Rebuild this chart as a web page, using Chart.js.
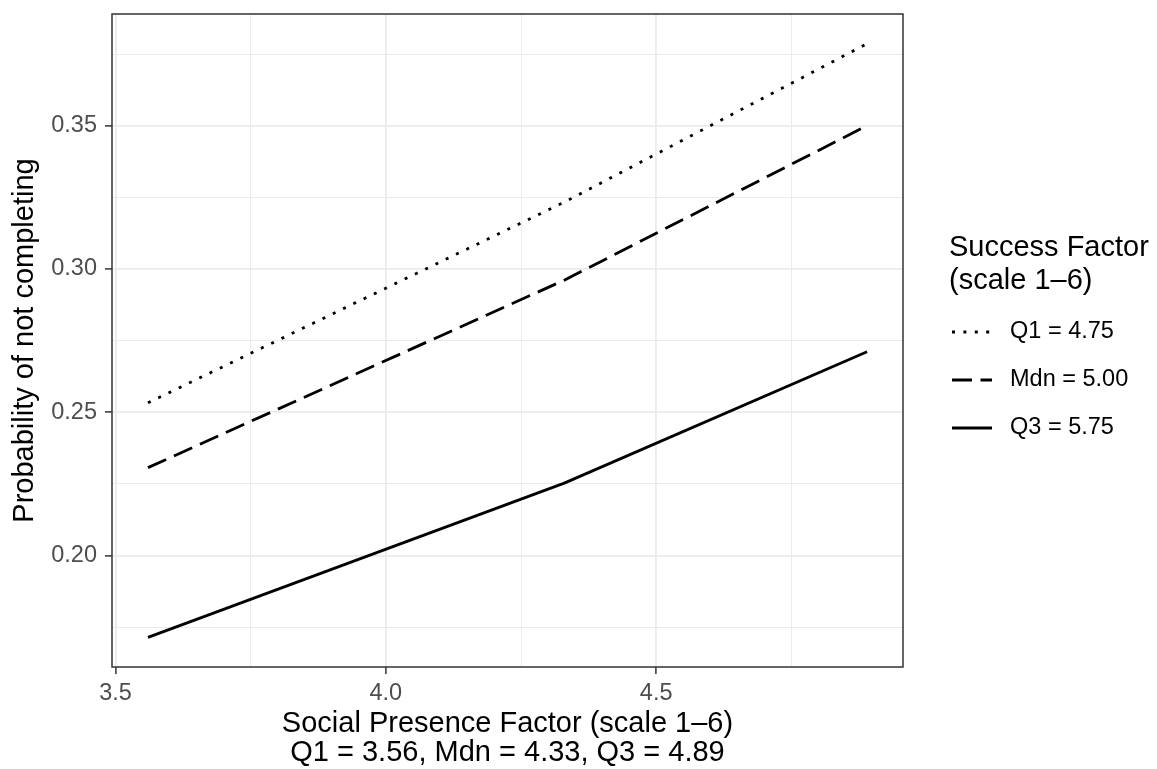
<!DOCTYPE html>
<html lang="en">
<head>
<meta charset="UTF-8">
<title>Probability of not completing</title>
<script src="https://cdn.jsdelivr.net/npm/chart.js"></script>
<style>
  body { margin: 0; background: #ffffff; }
  #wrap { width: 1157px; height: 769px; }
</style>
</head>
<body>
<div id="wrap"><canvas id="probChart" width="1157" height="769"></canvas></div>
<script>
// Social presence factor at Q1, median and Q3
const socialPresence = [3.56, 4.33, 4.89];

// Predicted probability of not completing, one line per success factor level
const seriesLabels = ['Q1 = 4.75', 'Mdn = 5.00', 'Q3 = 5.75'];
const probQ1 = [0.2533, 0.3233, 0.3786];
const probMdn = [0.2307, 0.2961, 0.3500];
const probQ3 = [0.1715, 0.2253, 0.2711];

// Axis breaks
const xMajor = [3.5, 4.0, 4.5];
const xMinor = [3.75, 4.25, 4.75];
const yMajor = [0.20, 0.25, 0.30, 0.35];
const yMinor = [0.175, 0.225, 0.275, 0.325, 0.375];

const FONT = "'Liberation Sans', Arial, Helvetica, sans-serif";

function isIn(v, list) {
    return list.some(m => Math.abs(m - v) < 1e-9);
}

// 5% padding on both sides of the data range, like ggplot does
function expand(values) {
    const lo = Math.min(...values), hi = Math.max(...values);
    const pad = (hi - lo) * 0.05;
    return [lo - pad, hi + pad];
}

const allProb = probQ1.concat(probMdn, probQ3);
const [xMin, xMax] = expand(socialPresence);
const [yMin, yMax] = expand(allProb);

function toPoints(ys) {
    return socialPresence.map((x, i) => ({ x: x, y: ys[i] }));
}

function makeSeries(label, ys, dash) {
    return {
        label: label,
        data: toPoints(ys),
        borderColor: '#000000',
        borderWidth: 2.8,
        borderDash: dash,
        borderCapStyle: 'butt',
        borderJoinStyle: 'round',
        pointRadius: 0,
        tension: 0,
        fill: false
    };
}

function gridFor(major) {
    return {
        color: '#EBEBEB',
        lineWidth: (c) => (c.tick && isIn(c.tick.value, major)) ? 1.8 : 1,
        drawTicks: true,
        tickLength: 7,
        tickWidth: 1.5,
        tickColor: (c) => (c.tick && isIn(c.tick.value, major)) ? '#333333' : 'rgba(0,0,0,0)'
    };
}

// Panel border drawn on top, plus the legend on the right
const panelAndLegend = {
    id: 'panelAndLegend',
    afterDraw(chart) {
        const ctx = chart.ctx;
        const a = chart.chartArea;
        ctx.save();
        ctx.strokeStyle = '#333333';
        ctx.lineWidth = 1.5;
        ctx.setLineDash([]);
        ctx.strokeRect(a.left, a.top, a.right - a.left, a.bottom - a.top);

        // legend title
        ctx.fillStyle = '#000000';
        ctx.textAlign = 'left';
        ctx.textBaseline = 'middle';
        ctx.font = '29px ' + FONT;
        ctx.fillText('Success Factor', 949, 248);
        ctx.fillText('(scale 1–6)', 949, 281);

        // legend keys
        ctx.font = '23.5px ' + FONT;
        chart.data.datasets.forEach((ds, i) => {
            const y = 332 + i * 48;
            ctx.beginPath();
            ctx.setLineDash(ds.borderDash || []);
            ctx.lineCap = 'butt';
            ctx.lineWidth = ds.borderWidth;
            ctx.strokeStyle = ds.borderColor;
            ctx.moveTo(952, y);
            ctx.lineTo(992, y);
            ctx.stroke();
            ctx.setLineDash([]);
            ctx.fillStyle = '#000000';
            ctx.fillText(ds.label, 1010, y);
        });
        ctx.restore();
    }
};

new Chart(document.getElementById('probChart'), {
    type: 'line',
    data: {
        datasets: [
            makeSeries(seriesLabels[0], probQ1, [3, 8.4]),
            makeSeries(seriesLabels[1], probMdn, [20, 8.5]),
            makeSeries(seriesLabels[2], probQ3, [])
        ]
    },
    options: {
        responsive: false,
        animation: false,
        events: [],
        layout: { padding: { left: 0, right: 254, top: 14, bottom: 0 } },
        plugins: {
            legend: { display: false },
            tooltip: { enabled: false }
        },
        scales: {
            x: {
                type: 'linear',
                min: xMin,
                max: xMax,
                afterBuildTicks: (s) => {
                    s.ticks = xMajor.concat(xMinor).sort((a, b) => a - b).map(v => ({ value: v }));
                },
                afterFit: (s) => {
                    s.height = 102;
                    s.paddingLeft = 0;
                    s.paddingRight = 0;
                },
                grid: gridFor(xMajor),
                border: { display: false },
                ticks: {
                    autoSkip: false,
                    maxRotation: 0,
                    padding: 5,
                    color: '#4D4D4D',
                    font: { family: FONT, size: 23.5 },
                    callback: (v) => isIn(v, xMajor) ? v.toFixed(1) : ''
                },
                title: {
                    display: true,
                    text: ['Social Presence Factor (scale 1–6)', 'Q1 = 3.56, Mdn = 4.33, Q3 = 4.89'],
                    color: '#000000',
                    font: { family: FONT, size: 29, lineHeight: 1.0 },
                    padding: { top: 0, bottom: 2 }
                }
            },
            y: {
                type: 'linear',
                min: yMin,
                max: yMax,
                afterBuildTicks: (s) => {
                    s.ticks = yMajor.concat(yMinor).sort((a, b) => a - b).map(v => ({ value: v }));
                },
                afterFit: (s) => {
                    s.width = 112;
                    s.paddingTop = 0;
                    s.paddingBottom = 0;
                },
                grid: gridFor(yMajor),
                border: { display: false },
                ticks: {
                    autoSkip: false,
                    padding: 8,
                    color: '#4D4D4D',
                    font: { family: FONT, size: 23.5 },
                    callback: (v) => isIn(v, yMajor) ? v.toFixed(2) : ''
                },
                title: {
                    display: true,
                    text: 'Probability of not completing',
                    color: '#000000',
                    font: { family: FONT, size: 29, lineHeight: 1.2 },
                    padding: { top: 8, bottom: 0 }
                }
            }
        }
    },
    plugins: [panelAndLegend]
});
</script>
</body>
</html>
